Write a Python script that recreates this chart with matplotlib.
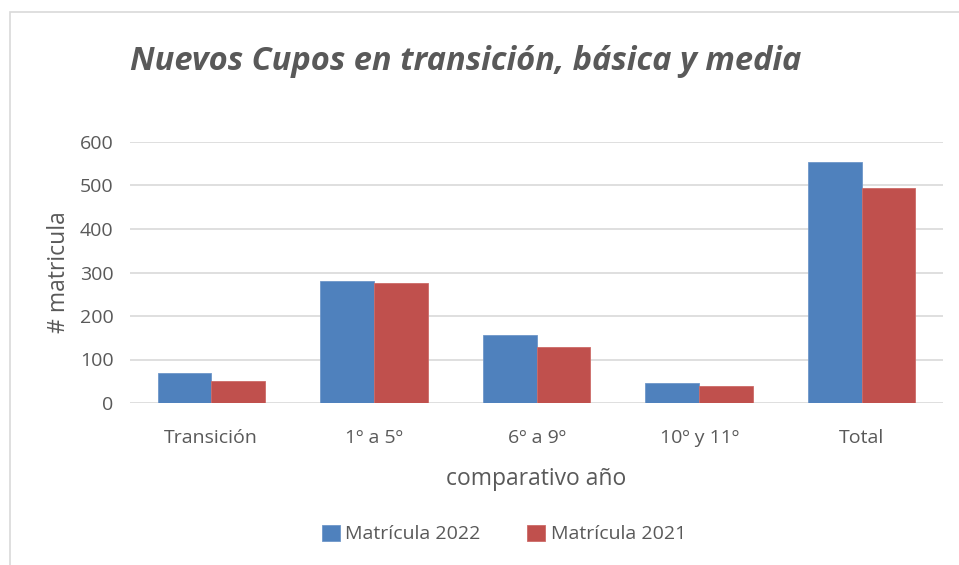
import matplotlib.pyplot as plt
import numpy as np
from matplotlib.patches import Rectangle

categorias = ["Transición", "1º a 5º", "6º a 9º", "10º y 11º", "Total"]
matricula_2022 = [70, 280, 157, 45, 553]
matricula_2021 = [50, 275, 129, 38, 494]
yticks = [0, 100, 200, 300, 400, 500, 600]

azul = "#4F81BD"
rojo = "#C0504D"
gris = "#595959"

plt.rcParams["font.family"] = ["Open Sans", "DejaVu Sans"]

fig = plt.figure(figsize=(9.59, 5.65), dpi=100)
ax = fig.add_axes([130 / 959, 1 - 403 / 565, 813 / 959, 261 / 565])

x = np.arange(len(categorias))
w = 0.33
ax.bar(x - w / 2, matricula_2022, w, color=azul, edgecolor="#6f97c9", linewidth=0.6,
       label="Matrícula 2022", zorder=3)
ax.bar(x + w / 2, matricula_2021, w, color=rojo, edgecolor="#cc6b68", linewidth=0.6,
       label="Matrícula 2021", zorder=3)

ax.set_xlim(-0.5, len(categorias) - 0.5)
ax.set_ylim(0, 600)
ax.set_yticks(yticks)
ax.set_xticks(x)
ax.set_xticklabels(categorias)
ax.tick_params(axis="both", length=0, labelsize=14, colors=gris)
ax.tick_params(axis="y", pad=12)
ax.tick_params(axis="x", pad=19)
ax.grid(axis="y", color="#D9D9D9", linewidth=1.2, zorder=0)
for s in ax.spines.values():
    s.set_visible(False)

ax.set_xlabel("comparativo año", fontsize=16.5, color=gris, labelpad=14)
ax.set_ylabel("# matricula", fontsize=16.5, color=gris, labelpad=6)

fig.text(130 / 959, 1 - 61 / 565, "Nuevos Cupos en transición, básica y media",
         fontsize=23.5, fontweight="bold", fontstyle="italic", color=gris,
         ha="left", va="center")

fig.legend(loc="center", bbox_to_anchor=(504 / 959, 1 - 534 / 565), ncol=2,
           frameon=False, fontsize=14, handlelength=0.9, handleheight=0.9,
           handletextpad=0.3, columnspacing=2.4, labelcolor=gris)

# borde del área del gráfico
fig.patches.append(Rectangle((10 / 959, -0.05), 1.0, 1 - 12 / 565 + 0.05,
                             transform=fig.transFigure, fill=False,
                             edgecolor="#D9D9D9", linewidth=1.2))

fig.savefig("out.png", dpi=100)
